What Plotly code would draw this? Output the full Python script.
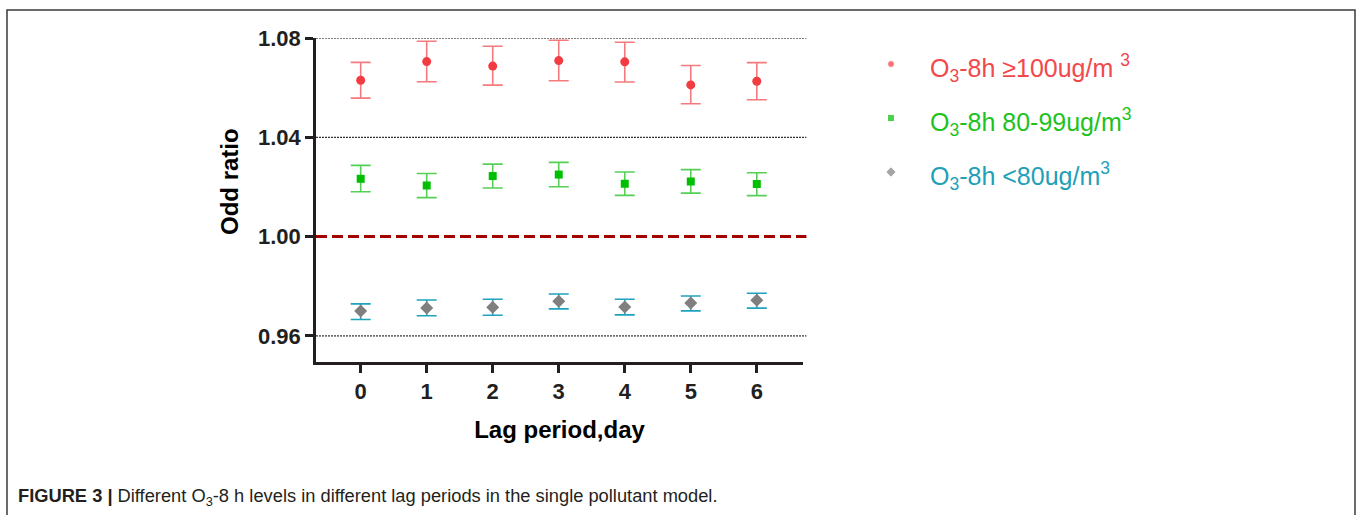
import plotly.graph_objects as go

W, H = 1358, 515

lags = [0, 1, 2, 3, 4, 5, 6]
tick_labels = ["0", "1", "2", "3", "4", "5", "6"]
y_ticks = [0.96, 1.00, 1.04, 1.08]

high_or = [1.0630, 1.0705, 1.0687, 1.0709, 1.0704, 1.0611, 1.0626]
high_up = [1.0702, 1.0787, 1.0767, 1.0791, 1.0783, 1.0689, 1.0701]
high_lo = [1.0558, 1.0624, 1.0610, 1.0628, 1.0623, 1.0535, 1.0551]

mid_or = [1.0233, 1.0206, 1.0244, 1.0250, 1.0213, 1.0222, 1.0212]
mid_up = [1.0287, 1.0254, 1.0292, 1.0299, 1.0260, 1.0270, 1.0257]
mid_lo = [1.0181, 1.0157, 1.0196, 1.0201, 1.0166, 1.0175, 1.0165]

low_or = [0.9700, 0.9713, 0.9716, 0.9740, 0.9717, 0.9733, 0.9744]
low_up = [0.9729, 0.9745, 0.9748, 0.9769, 0.9748, 0.9761, 0.9772]
low_lo = [0.9666, 0.9681, 0.9683, 0.9709, 0.9685, 0.9701, 0.9712]

series_names = [
    "O<sub>3</sub>-8h ≥100ug/m <sup>3</sup>",
    "O<sub>3</sub>-8h 80-99ug/m<sup>3</sup>",
    "O<sub>3</sub>-8h &lt;80ug/m<sup>3</sup>",
]
legend_rows = [0, 1, 2]

FONT = "Liberation Sans, Arial, Helvetica, sans-serif"


def px_x(p):
    return p / W


def px_y(p):
    return (H - p) / H


fig = go.Figure()

series = [
    (high_or, high_up, high_lo, "circle", 9, "#f23c42", "#f47a7d"),
    (mid_or, mid_up, mid_lo, "square", 8, "#00bf00", "#55cf55"),
    (low_or, low_up, low_lo, "diamond", 10, "#7f7f7f", "#1fa3bd"),
]
for vals, up, lo, sym, size, mcol, ecol in series:
    fig.add_trace(go.Scatter(
        x=lags, y=vals, mode="markers",
        marker=dict(symbol=sym, size=size, color=mcol, line=dict(width=0)),
        error_y=dict(type="data", symmetric=False,
                     array=[u - v for u, v in zip(up, vals)],
                     arrayminus=[v - l for v, l in zip(vals, lo)],
                     color=ecol, thickness=1.6, width=10),
        showlegend=False, xaxis="x", yaxis="y",
    ))

# legend markers on an auxiliary axis
legend_syms = ["circle", "square", "diamond"]
legend_mcols = ["#f23c42", "#00bf00", "#7f7f7f"]
legend_tcols = ["#f2484b", "#1ec21e", "#1ea0b8"]
fig.add_trace(go.Scatter(
    x=[0.5] * 3, y=legend_rows, mode="markers",
    marker=dict(symbol=legend_syms, size=[7, 7, 8], color=legend_mcols),
    showlegend=False, xaxis="x2", yaxis="y2", hoverinfo="skip",
))

shapes = []
# dotted gridlines
for v in [0.96, 1.04, 1.08]:
    shapes.append(dict(type="line", xref="x domain", yref="y", x0=0, x1=1.007,
                       y0=v, y1=v, line=dict(color="#000", width=1, dash="2px,1px"),
                       layer="below"))
# reference line at 1.00
shapes.append(dict(type="line", xref="x domain", yref="y", x0=0, x1=1.007,
                   y0=1.0, y1=1.0, line=dict(color="#a50000", width=3, dash="11px,5px"),
                   layer="below"))
# outer frame
shapes.append(dict(type="rect", xref="paper", yref="paper",
                   x0=px_x(7), x1=px_x(1355), y0=-0.1, y1=px_y(10),
                   line=dict(color="#3a3a3a", width=1.5)))

annotations = []
text_y = [68, 122, 176]
for name, col, ty in zip(series_names, legend_tcols, text_y):
    annotations.append(dict(
        text=name, xref="paper", yref="paper", x=px_x(928), y=px_y(ty),
        xanchor="left", yanchor="middle", showarrow=False,
        font=dict(family=FONT, size=25, color=col)))

# y axis title (placed slightly above the axis centre as in the reference)
annotations.append(dict(
    text="<b>Odd ratio</b>", xref="paper", yref="paper", x=px_x(229), y=px_y(182),
    xanchor="center", yanchor="middle", textangle=-90, showarrow=False,
    font=dict(family=FONT, size=24, color="#000")))

annotations.append(dict(
    text="<b>FIGURE 3 |</b> Different O<sub>3</sub>-8 h levels in different lag periods in the single pollutant model.",
    xref="paper", yref="paper", x=px_x(16), y=px_y(497),
    xanchor="left", yanchor="middle", showarrow=False,
    font=dict(family=FONT, size=18.3, color="#231f20")))

fig.update_layout(
    width=W, height=H,
    margin=dict(l=0, r=0, t=0, b=0, pad=0, autoexpand=False),
    paper_bgcolor="white", plot_bgcolor="white",
    font=dict(family=FONT, color="#231f20"),
    xaxis=dict(
        domain=[px_x(316), px_x(803)], range=[-0.677, 6.70],
        tickvals=lags, ticktext=tick_labels,
        showgrid=False, zeroline=False, automargin=False,
        showline=True, linecolor="#231f20", linewidth=2.5,
        ticks="outside", ticklen=8, tickwidth=2.5, tickcolor="#231f20",
        tickfont=dict(family=FONT, size=22, color="#231f20", weight="bold"),
        title=dict(text="<b>Lag period,day</b>", font=dict(family=FONT, size=24, color="#000"),
                   standoff=19),
        anchor="y",
    ),
    yaxis=dict(
        domain=[px_y(362), px_y(38)], range=[0.9495, 1.08],
        tickvals=y_ticks, ticktext=["0.96", "1.00", "1.04", "1.08"],
        showgrid=False, zeroline=False, automargin=False,
        showline=True, linecolor="#231f20", linewidth=2.5,
        ticks="outside", ticklen=8, tickwidth=2.5, tickcolor="#231f20",
        tickfont=dict(family=FONT, size=22, color="#231f20", weight="bold"),
        anchor="x",
    ),
    xaxis2=dict(domain=[px_x(881), px_x(901)], range=[0, 1], visible=False, anchor="y2"),
    yaxis2=dict(domain=[px_y(199), px_y(37)], range=[2.5, -0.5], visible=False, anchor="x2"),
    shapes=shapes,
    annotations=annotations,
    showlegend=False,
)

fig.write_html("out.html")
